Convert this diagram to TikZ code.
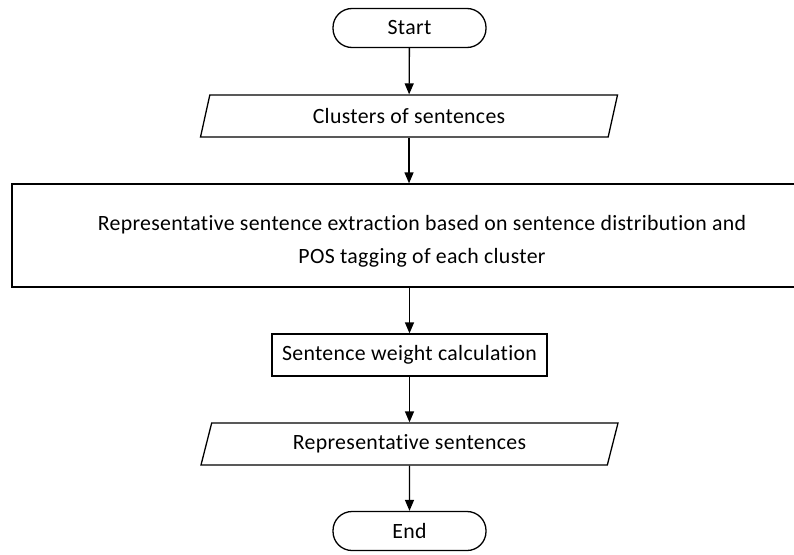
\documentclass[tikz,border=0pt]{standalone}
\usepackage{fontspec}
\setmainfont{Carlito}[Ligatures={NoCommon,NoRequired,NoContextual}, LetterSpace=1.5]
\usetikzlibrary{shapes.geometric, arrows.meta}

\begin{document}
\begin{tikzpicture}[x=1pt, y=-1pt,
	every node/.style={font=\fontsize{21.8}{33}\selectfont, line width=1.3pt, draw, align=center},
	terminal/.style={rounded corners=19pt, minimum width=153pt, minimum height=39pt},
	io/.style={trapezium, trapezium left angle=67, trapezium right angle=113, trapezium stretches body, minimum width=417pt, minimum height=42pt},
	process/.style={rectangle, minimum height=42pt},
	arrow/.style={line width=1.3pt, -{Triangle[width=9pt, length=11pt]}}]
	\useasboundingbox (0,0) rectangle (794,554);

	\node[terminal] (start) at (409.5,28) {Start};
	\node[io] (clusters) at (409,116) {Clusters of sentences};
	\node[process, minimum width=820pt, minimum height=103pt] (extract) at (422,235.5)
		{\rule{0pt}{26pt}Representative sentence extraction based on sentence distribution and\\POS tagging of each cluster};
	\node[process, minimum width=275pt] (weight) at (409.5,355) {Sentence weight calculation};
	\node[io] (repr) at (409.5,444) {Representative sentences};
	\node[terminal] (end) at (409.5,531) {End};

	\draw[arrow] (start) -- (clusters);
	\draw[arrow] (clusters.south) -- (clusters.south |- extract.north);
	\draw[arrow] (weight.north |- extract.south) -- (weight.north);
	\draw[arrow] (weight) -- (repr);
	\draw[arrow] (repr) -- (end);
\end{tikzpicture}
\end{document}
